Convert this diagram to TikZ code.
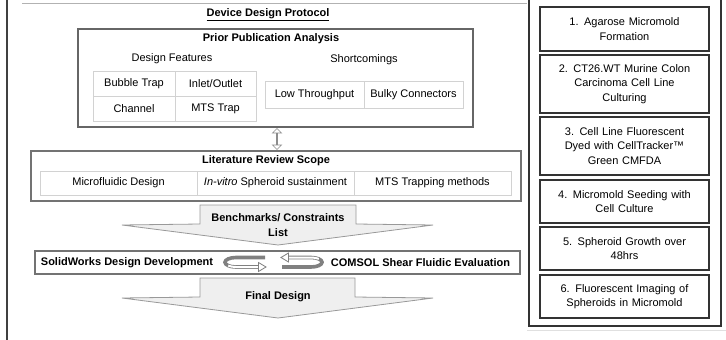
\documentclass[tikz,border=0pt]{standalone}
\usepackage{fontspec}
\setmainfont{Liberation Sans}
\usetikzlibrary{shapes.arrows}
\definecolor{cellgray}{HTML}{D2D2D2}
\definecolor{calloutfill}{HTML}{EFEFEF}
\begin{document}
\begin{tikzpicture}[x=1pt,y=-1pt,
  every node/.style={font=\fontsize{11}{14.5}\selectfont, inner sep=0pt},
  cell/.style={draw=cellgray, line width=0.9pt, inner sep=0pt},
  bigbox/.style={draw=black!55, line width=1.4pt, fill=white},
  stepbox/.style={draw=black!80, line width=1.3pt, minimum width=169pt, text width=165pt, align=center},
  callout/.style={fill=calloutfill, draw=black!40, line width=0.8pt},
  band/.style={line width=3.6pt, black!50},
  bandin/.style={line width=2pt, white},
  hollowhead/.style={fill=white, draw=black!50, line width=0.8pt, line join=miter},
  hd/.style={font=\fontsize{11}{14.5}\selectfont\bfseries}
]
\useasboundingbox (0,0) rectangle (726,340);
\fill[white] (0,0) rectangle (726,340);

% frame lines
\draw[black!75, line width=1.5pt] (7,0) -- (7,340);
\draw[black!30, line width=0.8pt] (22,3) -- (527,3);
\draw[black!12, line width=0.8pt] (527,330) -- (726,330);

% title
\node[hd] (title) at (268,15) {\underline{Device Design Protocol}};

% Prior publication analysis
\node[draw=black!60, line width=1.3pt, minimum width=395pt, minimum height=98pt] (prior) at (275.5,78) {};
\node[hd] (priorhead) at (271,39) {Prior Publication Analysis};
\node (feat) at (172,59) {Design Features};
\node (short) at (364,60) {Shortcomings};
\node[cell, minimum width=82pt, minimum height=25pt] (bt) at (134,83.5) {Bubble Trap};
\node[cell, minimum width=81pt, minimum height=25pt] (io) at (215.5,83.5) {Inlet/Outlet};
\node[cell, minimum width=82pt, minimum height=25pt] (ch) at (134,108.5) {Channel};
\node[cell, minimum width=81pt, minimum height=25pt] (mts) at (215.5,108.5) {MTS Trap};
\node[cell, minimum width=99pt, minimum height=27pt] (low) at (314.5,94.5) {Low Throughput};
\node[cell, minimum width=99pt, minimum height=27pt] (bulky) at (413.5,94.5) {Bulky Connectors};

% double arrow
\node[double arrow, draw=black!45, fill=white, line width=0.7pt, rotate=90,
      minimum height=21pt, minimum width=9pt, double arrow head extend=2.5pt] (da) at (277,139) {};

% Literature review scope
\node[bigbox, minimum width=490pt, minimum height=50pt] (lit) at (276,176) {};
\node[hd] (lithead) at (266,161) {Literature Review Scope};
\node[cell, minimum width=157pt, minimum height=24pt] (mf) at (118.5,183) {Microfluidic Design};
\node[cell, minimum width=157pt, minimum height=24pt] (iv) at (275.5,183) {\itshape In-vitro\upshape{} Spheroid sustainment};
\node[cell, minimum width=157pt, minimum height=24pt] (mt) at (432.5,183) {MTS Trapping methods};

% Benchmarks callout
\draw[callout] (200,205) -- (356,205) -- (356,224) -- (433,225) -- (278,245) -- (122,225) -- (200,224) -- cycle;
\node[hd, align=center] (bench) at (278,225) {Benchmarks/ Constraints\\List};

% SolidWorks / COMSOL row
\node[bigbox, minimum width=485pt, minimum height=23pt] (row) at (277.5,262.5) {};
\node[hd] (sw) at (127,262.5) {SolidWorks Design Development};
\node[hd] (cs) at (420.5,262.5) {COMSOL Shear Fluidic Evaluation};

% loop arrows
\begin{scope}
  \draw[band] (265,257.5) -- (236,257.5) arc[start angle=270, end angle=90, x radius=11, y radius=4.75] -- (259,267);
  \draw[bandin] (259,267) -- (236,267) arc[start angle=90, end angle=135, x radius=11, y radius=4.75];
  \draw[hollowhead] (258.5,262.5) -- (266,267) -- (258.5,271.5) -- cycle;
\end{scope}
\begin{scope}[rotate around={180:(273.5,262.25)}]
  \draw[band] (265,257.5) -- (236,257.5) arc[start angle=270, end angle=90, x radius=11, y radius=4.75] -- (259,267);
  \draw[bandin] (259,267) -- (236,267) arc[start angle=90, end angle=135, x radius=11, y radius=4.75];
  \draw[hollowhead] (258.5,262.5) -- (266,267) -- (258.5,271.5) -- cycle;
\end{scope}

% Final design callout
\draw[callout] (200,278) -- (355,278) -- (355,297) -- (433,298) -- (278,318) -- (122,298) -- (200,297) -- cycle;
\node[hd] (final) at (278,297) {Final Design};

% right panel
\draw[black!80, line width=1.3pt] (529,-5) -- (529,326) -- (721,326) -- (721,-5);
\node[stepbox, minimum height=44pt] (s1) at (624.5,29) {1. Agarose Micromold\\Formation};
\node[stepbox, minimum height=58pt] (s2) at (624.5,84) {2. CT26.WT Murine Colon\\Carcinoma Cell Line\\Culturing};
\node[stepbox, minimum height=58pt] (s3) at (624.5,146) {3. Cell Line Fluorescent\\Dyed with CellTracker™\\Green CMFDA};
\node[stepbox, minimum height=43pt] (s4) at (624.5,201.5) {4. Micromold Seeding with\\Cell Culture};
\node[stepbox, minimum height=43pt] (s5) at (624.5,248.5) {5. Spheroid Growth over\\48hrs};
\node[stepbox, minimum height=43pt] (s6) at (624.5,296.5) {6. Fluorescent Imaging of\\Spheroids in Micromold};
\end{tikzpicture}
\end{document}
